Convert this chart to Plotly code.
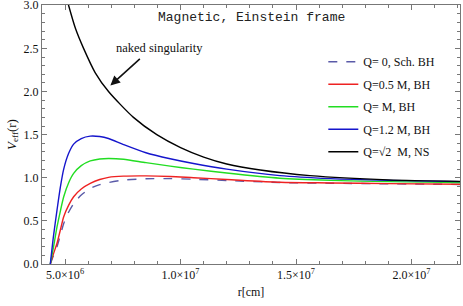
import plotly.graph_objects as go

# r in cm
r_bh = [4.36e6, 4.5e6, 4.65e6, 4.8e6, 4.94e6, 5.15e6, 5.37e6, 5.7e6, 6.09e6, 6.5e6,
        6.88e6, 7.53e6, 8.5e6, 9.55e6, 1.056e7, 1.2e7, 1.43e7, 1.65e7, 1.9e7, 2.21e7]
v_sch = [0.0, 0.10, 0.20, 0.34, 0.47, 0.60, 0.70, 0.80, 0.876, 0.92,
         0.945, 0.973, 0.988, 0.990, 0.983, 0.968, 0.945, 0.937, 0.930, 0.922]
v_q05 = [0.0, 0.12, 0.24, 0.40, 0.548, 0.68, 0.78, 0.87, 0.935, 0.98,
         1.005, 1.019, 1.022, 1.015, 1.000, 0.980, 0.948, 0.940, 0.932, 0.925]
v_q1 = [0.0, 0.20, 0.43, 0.62, 0.78, 0.94, 1.05, 1.14, 1.195, 1.218,
        1.224, 1.215, 1.175, 1.135, 1.10, 1.055, 0.995, 0.97, 0.955, 0.945]
v_q12 = [0.0, 0.33, 0.625, 0.90, 1.10, 1.28, 1.39, 1.455, 1.483, 1.478,
         1.455, 1.385, 1.29, 1.22, 1.165, 1.10, 1.025, 0.99, 0.97, 0.955]
r_ns = [5.0e6, 5.15e6, 5.45e6, 5.8e6, 6.3e6, 6.88e6, 7.96e6, 8.97e6, 1.0e7,
        1.1e7, 1.2e7, 1.345e7, 1.56e7, 1.9e7, 2.21e7]
v_ns = [3.15, 3.0, 2.73, 2.5, 2.22, 2.0, 1.70, 1.50, 1.35,
        1.24, 1.16, 1.09, 1.025, 0.975, 0.958]

y_tickvals = [0.0, 0.5, 1.0, 1.5, 2.0, 2.5, 3.0]
x_tickvals = [5e6, 1e7, 1.5e7, 2e7]
x_ticktext = ["5.0\u00d710<sup>6</sup>", "1.0\u00d710<sup>7</sup>",
              "1.5\u00d710<sup>7</sup>", "2.0\u00d710<sup>7</sup>"]

names = ["Q= 0, Sch. BH", "Q=0.5 M, BH", "Q= M, BH", "Q=1.2 M, BH", "Q=\u221a2  M, NS"]
colors = ["#5a5aa8", "#ee2222", "#22dd22", "#1515cc", "#000000"]

fig = go.Figure()
series = [(r_bh, v_sch, "dash"), (r_bh, v_q05, "solid"), (r_bh, v_q1, "solid"),
          (r_bh, v_q12, "solid"), (r_ns, v_ns, "solid")]
for i, (xs, ys, dash) in enumerate(series):
    fig.add_trace(go.Scatter(
        x=xs, y=ys, mode="lines", name=names[i],
        line=dict(color=colors[i], width=1.4, dash=dash, shape="spline", smoothing=0.7),
        legendgroup=str(i),
    ))

serif = "Liberation Serif"
axis_common = dict(
    showline=True, linecolor="#777", linewidth=1, mirror="ticks",
    ticks="inside", ticklen=5, tickcolor="#777", showgrid=False, zeroline=False,
    tickfont=dict(family=serif, size=12, color="#111"),
    ticklabeloverflow="allow", automargin=False,
)
fig.update_xaxes(
    range=[4.0e6, 2.21e7], tickvals=x_tickvals, ticktext=x_ticktext,
    minor=dict(dtick=1e6, tick0=0, ticks="inside", ticklen=3, tickcolor="#777"),
    title=dict(text="r[cm]", font=dict(family=serif, size=12, color="#111"), standoff=6),
    **axis_common,
)
fig.update_yaxes(
    range=[0, 3.003], tickvals=y_tickvals, tickformat=".1f",
    minor=dict(dtick=0.1, tick0=0, ticks="inside", ticklen=3, tickcolor="#777"),
    title=dict(text="<i>V</i><sub>eff</sub>(r)", font=dict(family=serif, size=13, color="#111"), standoff=4),
    **axis_common,
)

fig.add_annotation(x=1.306e7, y=2.86, text="Magnetic, Einstein frame", showarrow=False,
                   font=dict(family="Liberation Mono", size=13, color="#222"))
fig.add_annotation(x=9.08e6, y=2.50, text="naked singularity", showarrow=False,
                   font=dict(family=serif, size=12.5, color="#111"))
fig.add_annotation(x=6.96e6, y=2.07, ax=31, ay=-28, text="", showarrow=True,
                   arrowhead=2, arrowsize=1.2, arrowwidth=1.6, arrowcolor="#111")

fig.update_layout(
    width=463, height=306,
    margin=dict(l=42, r=3, t=5, b=42, autoexpand=False),
    plot_bgcolor="white", paper_bgcolor="white",
    showlegend=True,
    legend=dict(x=0.673, y=0.837, xanchor="left", yanchor="top",
                bgcolor="rgba(0,0,0,0)", tracegroupgap=3.5,
                font=dict(family=serif, size=12, color="#111")),
)

fig.write_html("out.html", config={"displayModeBar": False},
               post_script="document.body.style.margin='0';document.body.style.padding='0';")
